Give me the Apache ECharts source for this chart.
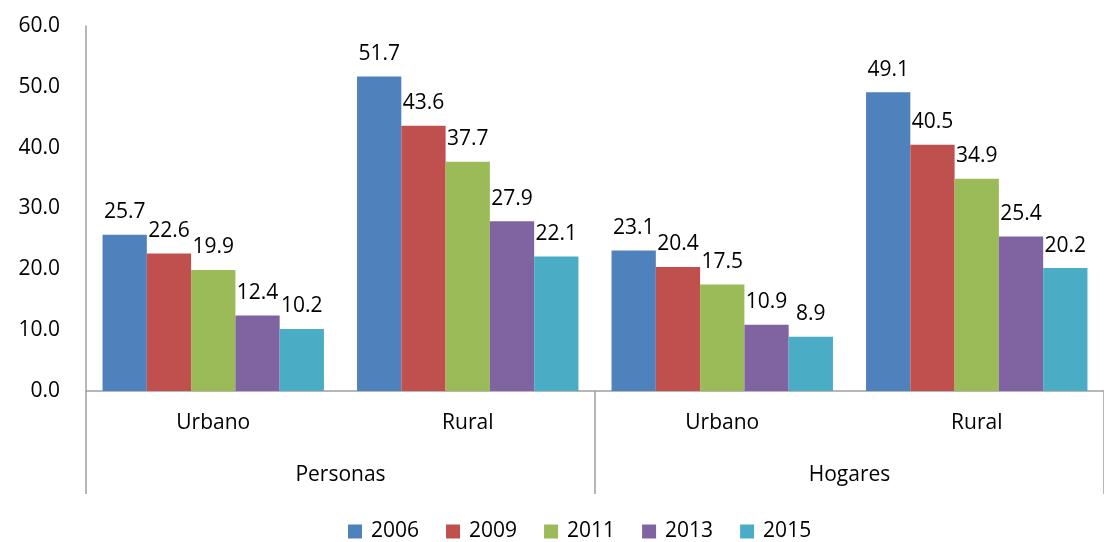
<!DOCTYPE html>
<html>
<head>
<meta charset="utf-8">
<script src="https://cdn.jsdelivr.net/npm/echarts@6/dist/echarts.min.js"></script>
<style>
  html, body { margin: 0; padding: 0; background: #fff; }
  #chart { width: 1104px; height: 542px; }
</style>
</head>
<body>
<div id="chart"></div>
<script>
var categories = ['Urbano', 'Rural', 'Urbano', 'Rural'];
var groups = ['Personas', 'Hogares'];
var years = ['2006', '2009', '2011', '2013', '2015'];
var v2006 = [25.7, 51.7, 23.1, 49.1];
var v2009 = [22.6, 43.6, 20.4, 40.5];
var v2011 = [19.9, 37.7, 17.5, 34.9];
var v2013 = [12.4, 27.9, 10.9, 25.4];
var v2015 = [10.2, 22.1, 8.9, 20.2];
var yTicks = [0, 10, 20, 30, 40, 50, 60];

var colors = ['#4F81BD', '#C0504D', '#9BBB59', '#8064A2', '#4BACC6'];
var values = [v2006, v2009, v2011, v2013, v2015];
var font = '"Open Sans", sans-serif';
var fs = 21;

var myChart = echarts.init(document.getElementById('chart'));

var series = [];
for (var i = 0; i < years.length; i++) {
    series.push({
        name: years[i],
        type: 'bar',
        xAxisIndex: 0,
        barGap: 0,
        barCategoryGap: '13%',
        itemStyle: { color: colors[i] },
        label: {
            show: true,
            position: 'top',
            distance: 12,
            color: '#000',
            fontSize: fs,
            fontFamily: font,
            formatter: function (p) { return p.value.toFixed(1); }
        },
        data: values[i]
    });
}

var option = {
    animation: false,
    color: colors,
    textStyle: { fontFamily: font },
    grid: { left: 86, top: 26, width: 1026, height: 365, containLabel: false },
    legend: {
        top: 516,
        left: 343,
        itemWidth: 14,
        itemHeight: 14,
        itemGap: 27,
        icon: 'rect',
        textStyle: { fontSize: fs, color: '#000', fontFamily: font, padding: [0, 0, 0, 4] },
        data: years
    },
    xAxis: [{
        type: 'category',
        data: categories,
        axisLine: { lineStyle: { color: '#a0a0a0', width: 1.5 } },
        axisTick: { show: false },
        axisLabel: { fontSize: fs, color: '#000', margin: 22, fontFamily: font }
    }, {
        type: 'category',
        data: groups,
        position: 'bottom',
        axisLine: { show: false },
        axisTick: { show: true, length: 103, lineStyle: { color: '#a0a0a0', width: 1.5 } },
        axisLabel: { fontSize: fs, color: '#000', margin: 74, fontFamily: font }
    }],
    yAxis: {
        type: 'value',
        min: 0,
        max: yTicks[yTicks.length - 1],
        interval: 10,
        splitLine: { show: false },
        axisLine: { show: true, lineStyle: { color: '#a0a0a0', width: 1.5 } },
        axisTick: { show: false },
        axisLabel: {
            fontSize: fs,
            color: '#000',
            margin: 26,
            fontFamily: font,
            formatter: function (v) { return v.toFixed(1); }
        }
    },
    series: series
};

myChart.setOption(option);
</script>
</body>
</html>
